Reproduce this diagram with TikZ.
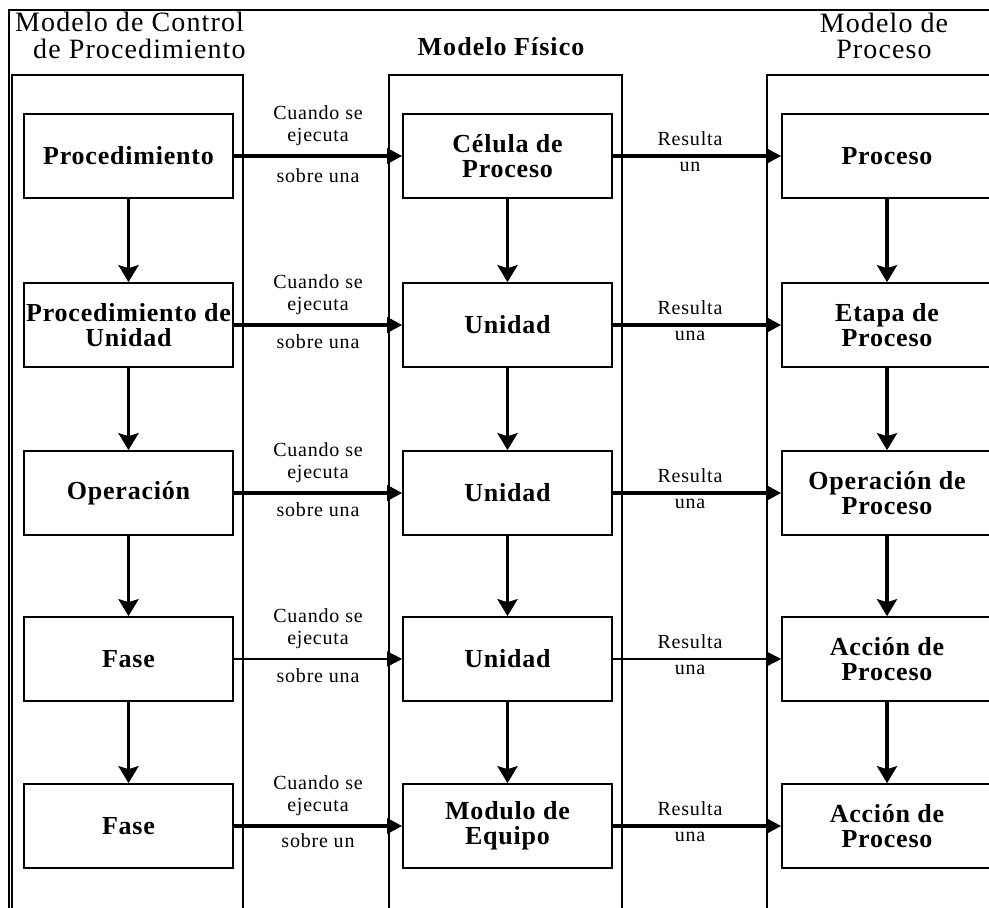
\documentclass[tikz,border=0pt]{standalone}
\usepackage{fontspec}
\setmainfont{Liberation Serif}
\newfontfamily\boxfont[LetterSpace=3]{Liberation Serif}
\newfontfamily\labfont[LetterSpace=4]{Liberation Serif}
\newfontfamily\titfont[LetterSpace=4]{Liberation Serif}
\usetikzlibrary{arrows.meta}
\tikzset{
  frame/.style={line width=1.6pt},
  lane/.style={line width=1.6pt},
  stage/.style={draw, line width=1.6pt, minimum width=209pt, minimum height=84pt,
    inner sep=0pt, align=center, font=\boxfont\bfseries\fontsize{26}{25}\selectfont},
  wide/.style={minimum width=210pt},
  lab/.style={inner sep=0pt, align=center, font=\labfont\fontsize{20}{22}\selectfont},
  title/.style={inner sep=0pt, font=\titfont\fontsize{28}{25}\selectfont},
  boldtitle/.style={inner sep=0pt, font=\titfont\bfseries\fontsize{26}{25}\selectfont},
  down/.style={line width=3.4pt, -{Stealth[length=17pt,width=20pt,inset=3pt]}},
  across/.style={line width=3.4pt, -{Triangle[length=15pt,width=15pt]}},
  thinacross/.style={line width=1.6pt, -{Triangle[length=15pt,width=15pt]}}
}
\begin{document}
\begin{tikzpicture}[x=1pt,y=-1pt]
\useasboundingbox (0,0) rectangle (989,908);

% outer frame and the three model lanes
\draw[frame] (995,10) -- (9,10) -- (9,912);
\draw[lane] (12,912) -- (12,75) -- (243,75) -- (243,912);
\draw[lane] (389,912) -- (389,75) -- (622,75) -- (622,912);
\draw[lane] (767,912) -- (767,75) -- (995,75);

% lane titles
\node[title, anchor=base west] (t1a) at (15,31) {Modelo de Control};
\node[title, anchor=base west] (t1b) at (33,58) {de Procedimiento};
\node[boldtitle, anchor=base] (t2) at (501,55) {Modelo Físico};
\node[title, anchor=base] (t3a) at (884,32) {Modelo de};
\node[title, anchor=base] (t3b) at (884,58) {Proceso};

% procedural control model
\node[stage] (p1) at (128.5,156) {Procedimiento};
\node[stage] (p2) at (128.5,325) {Procedimiento de\\Unidad};
\node[stage] (p3) at (128.5,493) {Operación};
\node[stage] (p4) at (128.5,659) {Fase};
\node[stage] (p5) at (128.5,826) {Fase};

% physical model
\node[stage] (m1) at (507.5,156) {Célula de\\Proceso};
\node[stage] (m2) at (507.5,325) {Unidad};
\node[stage] (m3) at (507.5,493) {Unidad};
\node[stage] (m4) at (507.5,659) {Unidad};
\node[stage] (m5) at (507.5,826) {Modulo de\\Equipo};

% process model
\node[stage, wide] (r1) at (887,156) {Proceso};
\node[stage, wide] (r2) at (887,325) {Etapa de\\Proceso};
\node[stage, wide] (r3) at (887,493) {Operación de\\Proceso};
\node[stage, wide] (r4) at (887,659) {Acción de\\Proceso};
\node[stage, wide] (r5) at (887,826) {Acción de\\Proceso};

% hierarchy arrows
\foreach \c in {p,m,r}{
  \draw[down] (\c1.south) -- (\c2.north);
  \draw[down] (\c2.south) -- (\c3.north);
  \draw[down] (\c3.south) -- (\c4.north);
  \draw[down] (\c4.south) -- (\c5.north);
}

% control -> physical
\draw[across] (p1.east) -- node[lab, yshift=30pt]{Cuando se\\ejecuta} node[lab, yshift=-20pt]{sobre una} (m1.west);
\draw[across] (p2.east) -- node[lab, yshift=30pt]{Cuando se\\ejecuta} node[lab, yshift=-17pt]{sobre una} (m2.west);
\draw[across] (p3.east) -- node[lab, yshift=30pt]{Cuando se\\ejecuta} node[lab, yshift=-17pt]{sobre una} (m3.west);
\draw[thinacross] (p4.east) -- node[lab, yshift=30pt]{Cuando se\\ejecuta} node[lab, yshift=-17pt]{sobre una} (m4.west);
\draw[across] (p5.east) -- node[lab, yshift=30pt]{Cuando se\\ejecuta} node[lab, yshift=-15pt]{sobre un} (m5.west);

% physical -> process
\draw[across] (m1.east) -- node[lab, xshift=-7pt, yshift=17pt]{Resulta} node[lab, xshift=-7pt, yshift=-11pt]{un} (r1.west);
\draw[across] (m2.east) -- node[lab, xshift=-7pt, yshift=17pt]{Resulta} node[lab, xshift=-7pt, yshift=-11pt]{una} (r2.west);
\draw[across] (m3.east) -- node[lab, xshift=-7pt, yshift=17pt]{Resulta} node[lab, xshift=-7pt, yshift=-11pt]{una} (r3.west);
\draw[thinacross] (m4.east) -- node[lab, xshift=-7pt, yshift=17pt]{Resulta} node[lab, xshift=-7pt, yshift=-11pt]{una} (r4.west);
\draw[across] (m5.east) -- node[lab, xshift=-7pt, yshift=17pt]{Resulta} node[lab, xshift=-7pt, yshift=-11pt]{una} (r5.west);
\end{tikzpicture}
\end{document}
